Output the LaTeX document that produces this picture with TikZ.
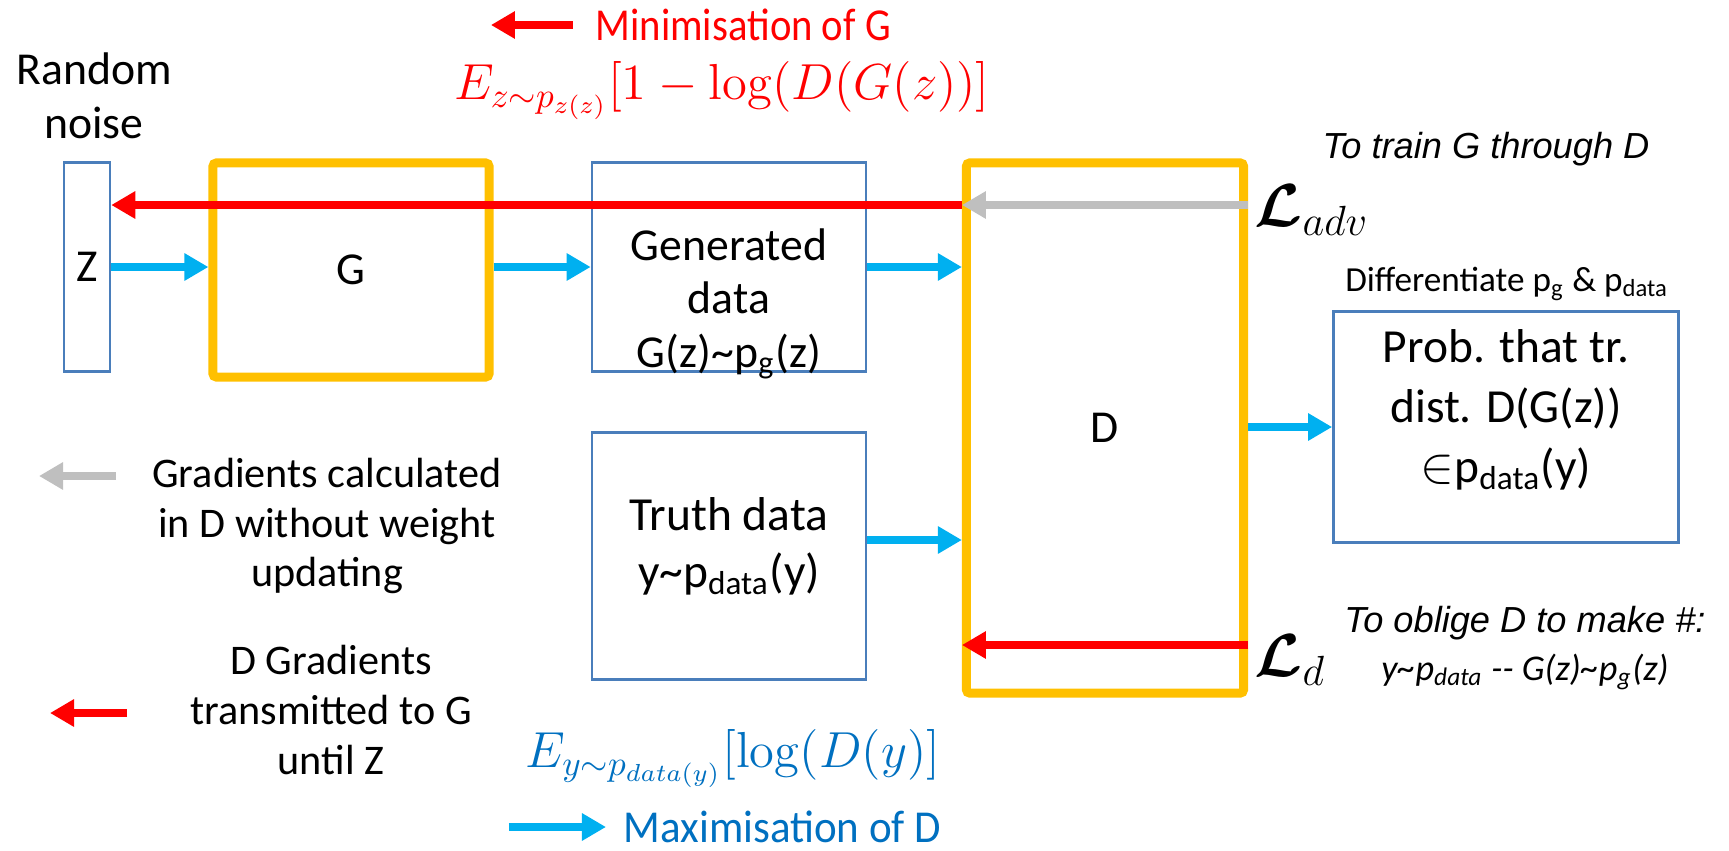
\documentclass[tikz,border=0pt]{standalone}
\usepackage{amsmath}
\usepackage{amssymb}
\usepackage{bm}
\usepackage[no-math]{fontspec}
\setmainfont{Carlito}
\newfontfamily\arialfont{Liberation Sans}
\usetikzlibrary{arrows.meta}

\definecolor{ganyellow}{HTML}{FFC000}
\definecolor{ganblue}{HTML}{4A7EBB}
\definecolor{fwdblue}{HTML}{00B0F0}
\definecolor{mathblue}{HTML}{0070C0}
\definecolor{gradgrey}{HTML}{BFBFBF}
\definecolor{gradred}{HTML}{FF0000}

\newcommand{\boxfont}{\fontsize{13}{15.2}\selectfont}
\newcommand{\legfont}{\fontsize{12}{14.2}\selectfont}
\newcommand{\notefont}{\fontsize{10.3}{13.6}\selectfont}

\begin{document}
\begin{tikzpicture}[x=0.01cm, y=-0.01cm,
    netbox/.style={draw=ganyellow, line width=0.09cm, rounded corners=1pt,
                   inner sep=0pt, font=\boxfont},
    databox/.style={draw=ganblue, line width=0.025cm, inner sep=0pt,
                    align=center, font=\boxfont},
    txt/.style={align=center, inner sep=0pt},
    fwd/.style={fwdblue, line width=0.075cm,
                -{Triangle[length=0.24cm, width=0.26cm]}},
    back/.style={gradred, line width=0.075cm,
                 -{Triangle[length=0.24cm, width=0.26cm]}},
    nograd/.style={gradgrey, line width=0.075cm,
                   -{Triangle[length=0.24cm, width=0.26cm]}}]
    \useasboundingbox (0,0) rectangle (1729,851);

    % Boxes
    \node[databox, minimum width=0.46cm, minimum height=2.09cm] (z) at (87,267) {Z};
    \node[netbox, minimum width=2.76cm, minimum height=2.14cm] (g) at (351,270) {G};
    \node[databox, minimum width=2.74cm, minimum height=2.09cm] (gen) at (729,267) {};
    \node[netbox, minimum width=2.77cm, minimum height=5.30cm] (d) at (1105,428) {D};
    \node[databox, minimum width=2.74cm, minimum height=2.47cm] (truth) at (729,556) {};
    \node[databox, minimum width=3.45cm, minimum height=2.31cm] (prob) at (1506,427) {};

    % Texts
    \node[txt, font=\boxfont] (noise) at (94,96) {Random\\noise};
    \node[txt, font=\boxfont] (gentxt) at (729,304)
        {Generated\\data\\G(z)\textasciitilde p\textsubscript{g}(z)};
    \node[txt, font=\fontsize{13.5}{16.2}\selectfont] (truthtxt) at (729,546)
        {Truth data\\y\textasciitilde p\textsubscript{data}(y)};
    \node[txt, font=\fontsize{13.5}{17}\selectfont] (probtxt) at (1506,410)
        {Prob. that tr.\\dist. D(G(z))\\$\in$p\textsubscript{data}(y)};
    \node[txt, font=\fontsize{10}{12}\selectfont] (diff) at (1507,284)
        {Differentiate p\textsubscript{g} \& p\textsubscript{data}};
    \node[txt, font=\notefont\arialfont\itshape] (train) at (1486,149)
        {To train G through D};
    \node[txt, font=\notefont] (oblige) at (1525,648)
        {{\arialfont\itshape To oblige D to make \#:}\\
         {\itshape y\textasciitilde p\textsubscript{data} -{}- G(z)\textasciitilde p\textsubscript{g}(z)}};
    \node[txt, anchor=west, font=\fontsize{17}{20}\selectfont] (ladv) at (1254,210)
        {$\bm{\mathcal{L}}_{adv}$};
    \node[txt, anchor=west, font=\fontsize{17}{20}\selectfont] (ld) at (1254,660)
        {$\bm{\mathcal{L}}_{d}$};

    % Losses
    \node[txt, text=gradred, font=\fontsize{14.5}{18}\selectfont] (lossg) at (722,91)
        {$E_{z\sim p_{z(z)}}[1-\log(D(G(z))]$};
    \node[txt, text=mathblue, font=\fontsize{14.5}{18}\selectfont] (lossd) at (733,759)
        {$E_{y\sim p_{data(y)}}[\log(D(y)]$};

    % Legend
    \node[txt, anchor=west, text=gradred, font=\fontsize{13}{15}\selectfont] (mintxt) at (595,25)
        {\scalebox{0.89}[1]{Minimisation of G}};
    \node[txt, anchor=west, text=mathblue, font=\fontsize{13}{15}\selectfont] (maxtxt) at (623,827)
        {\scalebox{0.94}[1]{Maximisation of D}};
    \node[txt, font=\legfont] (greytxt) at (327,526)
        {Gradients calculated\\in D without weight\\updating};
    \node[txt, font=\legfont] (redtxt) at (331,710)
        {D Gradients\\transmitted to G\\until Z};
    \coordinate (greyfrom) at (116,476);
    \coordinate (greyto) at (39,476);
    \coordinate (redfrom) at (127,713);
    \coordinate (redto) at (50,713);

    \draw[back] ([xshift=-0.22cm]mintxt.west) -- ([xshift=-1.04cm]mintxt.west);
    \draw[fwd] ([xshift=-1.14cm]maxtxt.west) -- ([xshift=-0.17cm]maxtxt.west);
    \draw[nograd] (greyfrom) -- (greyto);
    \draw[back] (redfrom) -- (redto);

    % Forward arrows
    \draw[fwd] (z.east |- 0,267) -- (g.west |- 0,267);
    \draw[fwd] (g.east |- 0,267) -- (gen.west |- 0,267);
    \draw[fwd] (gen.east |- 0,267) -- (d.west |- 0,267);
    \draw[fwd] (truth.east |- 0,540) -- (d.west |- 0,540);
    \draw[fwd] (d.east |- prob) -- (prob.west);

    % Backward arrows
    \draw[nograd] (d.east |- 0,205) -- (d.west |- 0,205);
    \draw[back] (d.west |- 0,205) -- (z.east |- 0,205);
    \draw[back] (d.east |- 0,645) -- (d.west |- 0,645);

\end{tikzpicture}
\end{document}
